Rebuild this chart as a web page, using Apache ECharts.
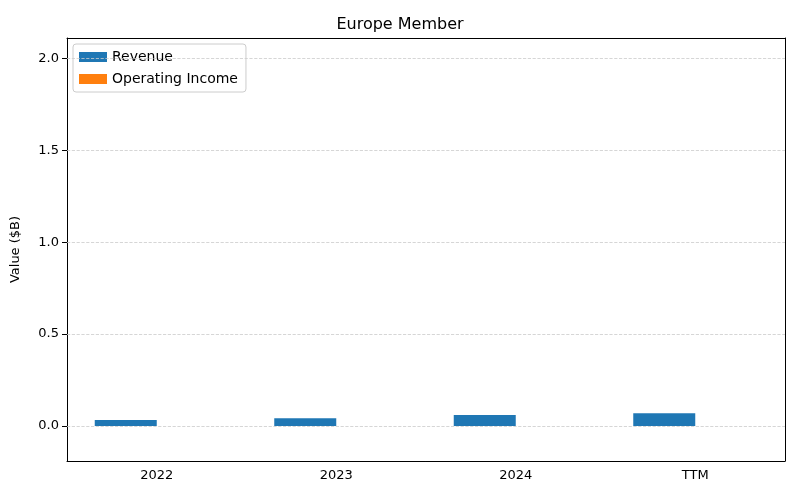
<!DOCTYPE html>
<html><head><meta charset="utf-8">
<script src="https://cdn.jsdelivr.net/npm/echarts@6/dist/echarts.min.js"></script>
<style>body{margin:0}#c{width:800px;height:500px}</style></head>
<body><div id="c"></div>
<script>
const categories = ['2022','2023','2024','TTM'];
const revenue = [0.033, 0.043, 0.06, 0.07];
const operatingIncome = [0, 0, 0, 0];
const yTicks = [0, 0.5, 1.0, 1.5, 2.0];
const chart = echarts.init(document.getElementById('c'));
const font = 'DejaVu Sans';
chart.setOption({
  animation:false,
  textStyle:{fontFamily:font},
  title:{text:'Europe Member',left:'center',top:12,textStyle:{fontFamily:font,fontWeight:'normal',fontSize:16,color:'#000'}},
  legend:{left:73,top:44,orient:'vertical',itemWidth:28,itemHeight:10,itemGap:8,
    backgroundColor:'#fff',borderColor:'#ccc',borderWidth:1,borderRadius:3,padding:[6,8,6,6],
    textStyle:{fontFamily:font,fontSize:14,color:'#000'},icon:'rect'},
  grid:{left:67,right:15,top:38,bottom:39,containLabel:false},
  xAxis:[{type:'category',data:categories,axisTick:{alignWithLabel:true,lineStyle:{color:'#000'}},
    axisLine:{onZero:false,lineStyle:{color:'#000'}},
    axisLabel:{color:'#000',fontSize:13,fontFamily:font}},
    {type:'category',data:categories,position:'top',axisTick:{show:false},axisLabel:{show:false},
    axisLine:{show:true,onZero:false,lineStyle:{color:'#000'}}}],
  yAxis:[{type:'value',min:-0.19,max:2.11,name:'Value ($B)',nameLocation:'middle',nameGap:45,
    nameTextStyle:{fontFamily:font,fontSize:13,color:'#000'},
    axisLine:{show:true,onZero:false,lineStyle:{color:'#000'}},
    axisTick:{show:true,customValues:yTicks,lineStyle:{color:'#000'}},
    axisLabel:{customValues:yTicks,color:'#000',fontSize:13,fontFamily:font,formatter:v=>v.toFixed(1)},
    splitLine:{show:false}},
    {type:'value',min:-0.19,max:2.11,position:'right',axisLine:{show:true,onZero:false,lineStyle:{color:'#000'}},
    axisTick:{show:false},axisLabel:{show:false},splitLine:{show:false}}],
  series:[
    {name:'Revenue',type:'bar',data:revenue,barWidth:62,barGap:'0%',itemStyle:{color:'#1f77b4'},
     markLine:{silent:true,symbol:'none',label:{show:false},lineStyle:{color:'#ccc',type:'dashed',width:0.8},
       data:yTicks.map(v=>({yAxis:v}))}},
    {name:'Operating Income',type:'bar',data:operatingIncome,barWidth:62,itemStyle:{color:'#ff7f0e'}}
  ]
});
</script></body></html>
